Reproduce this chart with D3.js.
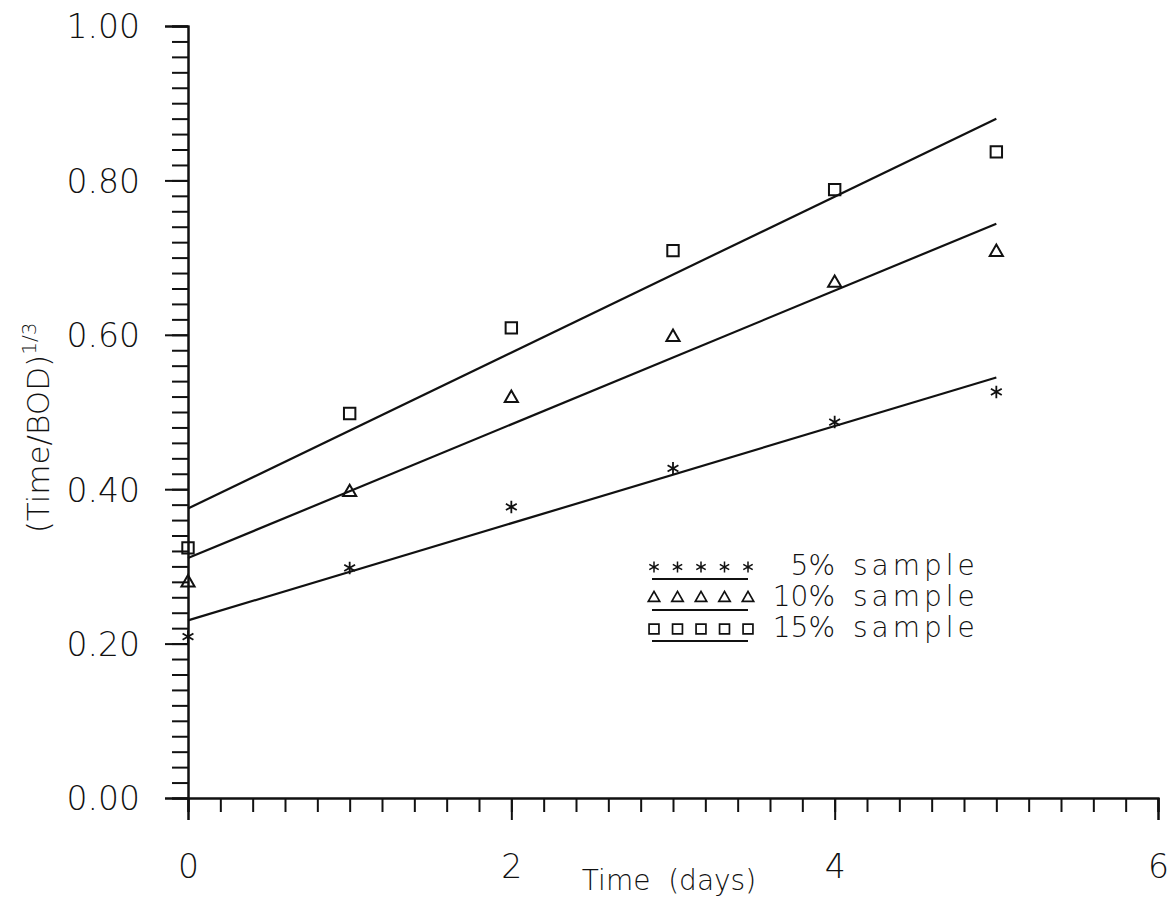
<!DOCTYPE html>
<html>
<head>
<meta charset="utf-8">
<script src="https://cdn.jsdelivr.net/npm/d3@7"></script>
<style>
  body { margin: 0; background: #fff; }
  svg { display: block; }
  text { font-family: 'DejaVu Sans', 'Lato', sans-serif; font-weight: 200; fill: #111; white-space: pre; }
</style>
</head>
<body>
<div id="chart"></div>
<script>
// values
const days = [0, 1, 2, 3, 4, 5];
const sample5 = [0.209, 0.298, 0.377, 0.427, 0.487, 0.526];
const sample10 = [0.279, 0.396, 0.518, 0.597, 0.667, 0.707];
const sample15 = [0.324, 0.498, 0.609, 0.709, 0.788, 0.837];
const seriesNames = ['5%', '10%', '15%'];
const xTickLabels = ['0', '2', '4', '6'];
const yTickLabels = ['0.00', '0.20', '0.40', '0.60', '0.80', '1.00'];

const width = 1171;
const height = 901;

const svg = d3.select('#chart').append('svg')
  .attr('width', width)
  .attr('height', height);

const x = d3.scaleLinear().domain([0, 6]).range([188, 1158]);
const y = d3.scaleLinear().domain([0, 1]).range([798, 26]);

const ink = '#111';

// minor ticks first, majors drawn over them
const yAxis = svg.append('g').attr('transform', `translate(${x(0)},0)`);
yAxis.call(d3.axisLeft(y)
  .tickValues(d3.range(0, 1.0001, 0.02))
  .tickSize(16)
  .tickFormat(''));
yAxis.call(g => g.append('g').call(d3.axisLeft(y)
  .tickValues(yTickLabels.map(Number))
  .tickSize(23)
  .tickPadding(25)
  .tickFormat((d, i) => yTickLabels[i])));

const xAxis = svg.append('g').attr('transform', `translate(0,${y(0)})`);
xAxis.call(d3.axisBottom(x)
  .tickValues(d3.range(0, 6.0001, 0.2))
  .tickSize(14)
  .tickFormat(''));
xAxis.call(g => g.append('g').call(d3.axisBottom(x)
  .tickValues(xTickLabels.map(Number))
  .tickSize(22)
  .tickPadding(15)
  .tickFormat((d, i) => xTickLabels[i])));

svg.selectAll('.tick line').attr('stroke', ink).attr('stroke-width', 2);
svg.selectAll('.tick text')
  .attr('font-family', null)
  .style('font-size', '33px');
yAxis.selectAll('.tick text').attr('dy', '0.36em');
xAxis.selectAll('.tick text').attr('dy', '1.3em');
// keep one domain per axis, drop the doubled ones
yAxis.select('g').select('.domain').remove();
xAxis.select('g').select('.domain').remove();
svg.selectAll('.domain').attr('stroke', ink).attr('stroke-width', 2);

// axis titles
svg.append('text')
  .attr('x', (x(0) + x(6)) / 2 - 4)
  .attr('y', 890)
  .attr('text-anchor', 'middle')
  .style('font-size', '28px')
  .text('Time  (days)');

const yTitle = svg.append('text')
  .attr('transform', 'translate(49,428) rotate(-90)')
  .attr('text-anchor', 'middle')
  .style('font-size', '31px');
yTitle.append('tspan').text('(Time/BOD)');
yTitle.append('tspan').attr('dy', -13).style('font-size', '20px').text('1/3');

// series
const symbolTypes = [d3.symbolAsterisk, d3.symbolTriangle, d3.symbolSquare];
const symbolSizes = [110, 75, 130];
const seriesValues = [sample5, sample10, sample15];

const series = seriesNames.map((name, i) => ({
  name: name,
  points: days.map((d, j) => ({ t: d, v: seriesValues[i][j] })),
  symbol: d3.symbol().type(symbolTypes[i]).size(symbolSizes[i])
}));

// least squares line through each series
const fit = function(points) {
  const mt = d3.mean(points, p => p.t);
  const mv = d3.mean(points, p => p.v);
  const slope = d3.sum(points, p => (p.t - mt) * (p.v - mv)) / d3.sum(points, p => (p.t - mt) ** 2);
  return { slope: slope, intercept: mv - slope * mt };
};

const line = d3.line().x(d => x(d[0])).y(d => y(d[1]));

series.forEach((s) => {
  const f = fit(s.points);
  const ends = d3.extent(days).map(t => [t, f.intercept + f.slope * t]);
  svg.append('path')
    .attr('d', line(ends))
    .attr('fill', 'none')
    .attr('stroke', ink)
    .attr('stroke-width', 2.2);

  svg.append('g').selectAll('path')
    .data(s.points)
    .enter().append('path')
    .attr('transform', d => `translate(${x(d.t)},${y(d.v)})`)
    .attr('d', s.symbol)
    .attr('fill', 'none')
    .attr('stroke', ink)
    .attr('stroke-width', s.name === '5%' ? 1.8 : 2);
});

// legend
const legend = svg.append('g').attr('transform', 'translate(652,567)');
const rowGap = 31;
series.forEach((s, i) => {
  const row = legend.append('g').attr('transform', `translate(0,${i * rowGap})`);
  const small = d3.symbol().type(symbolTypes[i]).size(symbolSizes[i] * 0.75);
  row.selectAll('path.mark')
    .data(d3.range(5))
    .enter().append('path')
    .attr('class', 'mark')
    .attr('transform', k => `translate(${2 + k * 23.5},0)`)
    .attr('d', small)
    .attr('fill', 'none')
    .attr('stroke', ink)
    .attr('stroke-width', s.name === '5%' ? 1.5 : 1.7);
  row.append('line')
    .attr('x1', 0).attr('x2', 96)
    .attr('y1', 12).attr('y2', 12)
    .attr('stroke', ink)
    .attr('stroke-width', 2);
  row.append('text')
    .attr('x', 183)
    .attr('y', 8)
    .attr('text-anchor', 'end')
    .style('font-size', '28px')
    .text(s.name);
  row.append('text')
    .attr('x', 201)
    .attr('y', 8)
    .style('font-size', '28px')
    .style('letter-spacing', '4px')
    .text('sample');
});
</script>
</body>
</html>
